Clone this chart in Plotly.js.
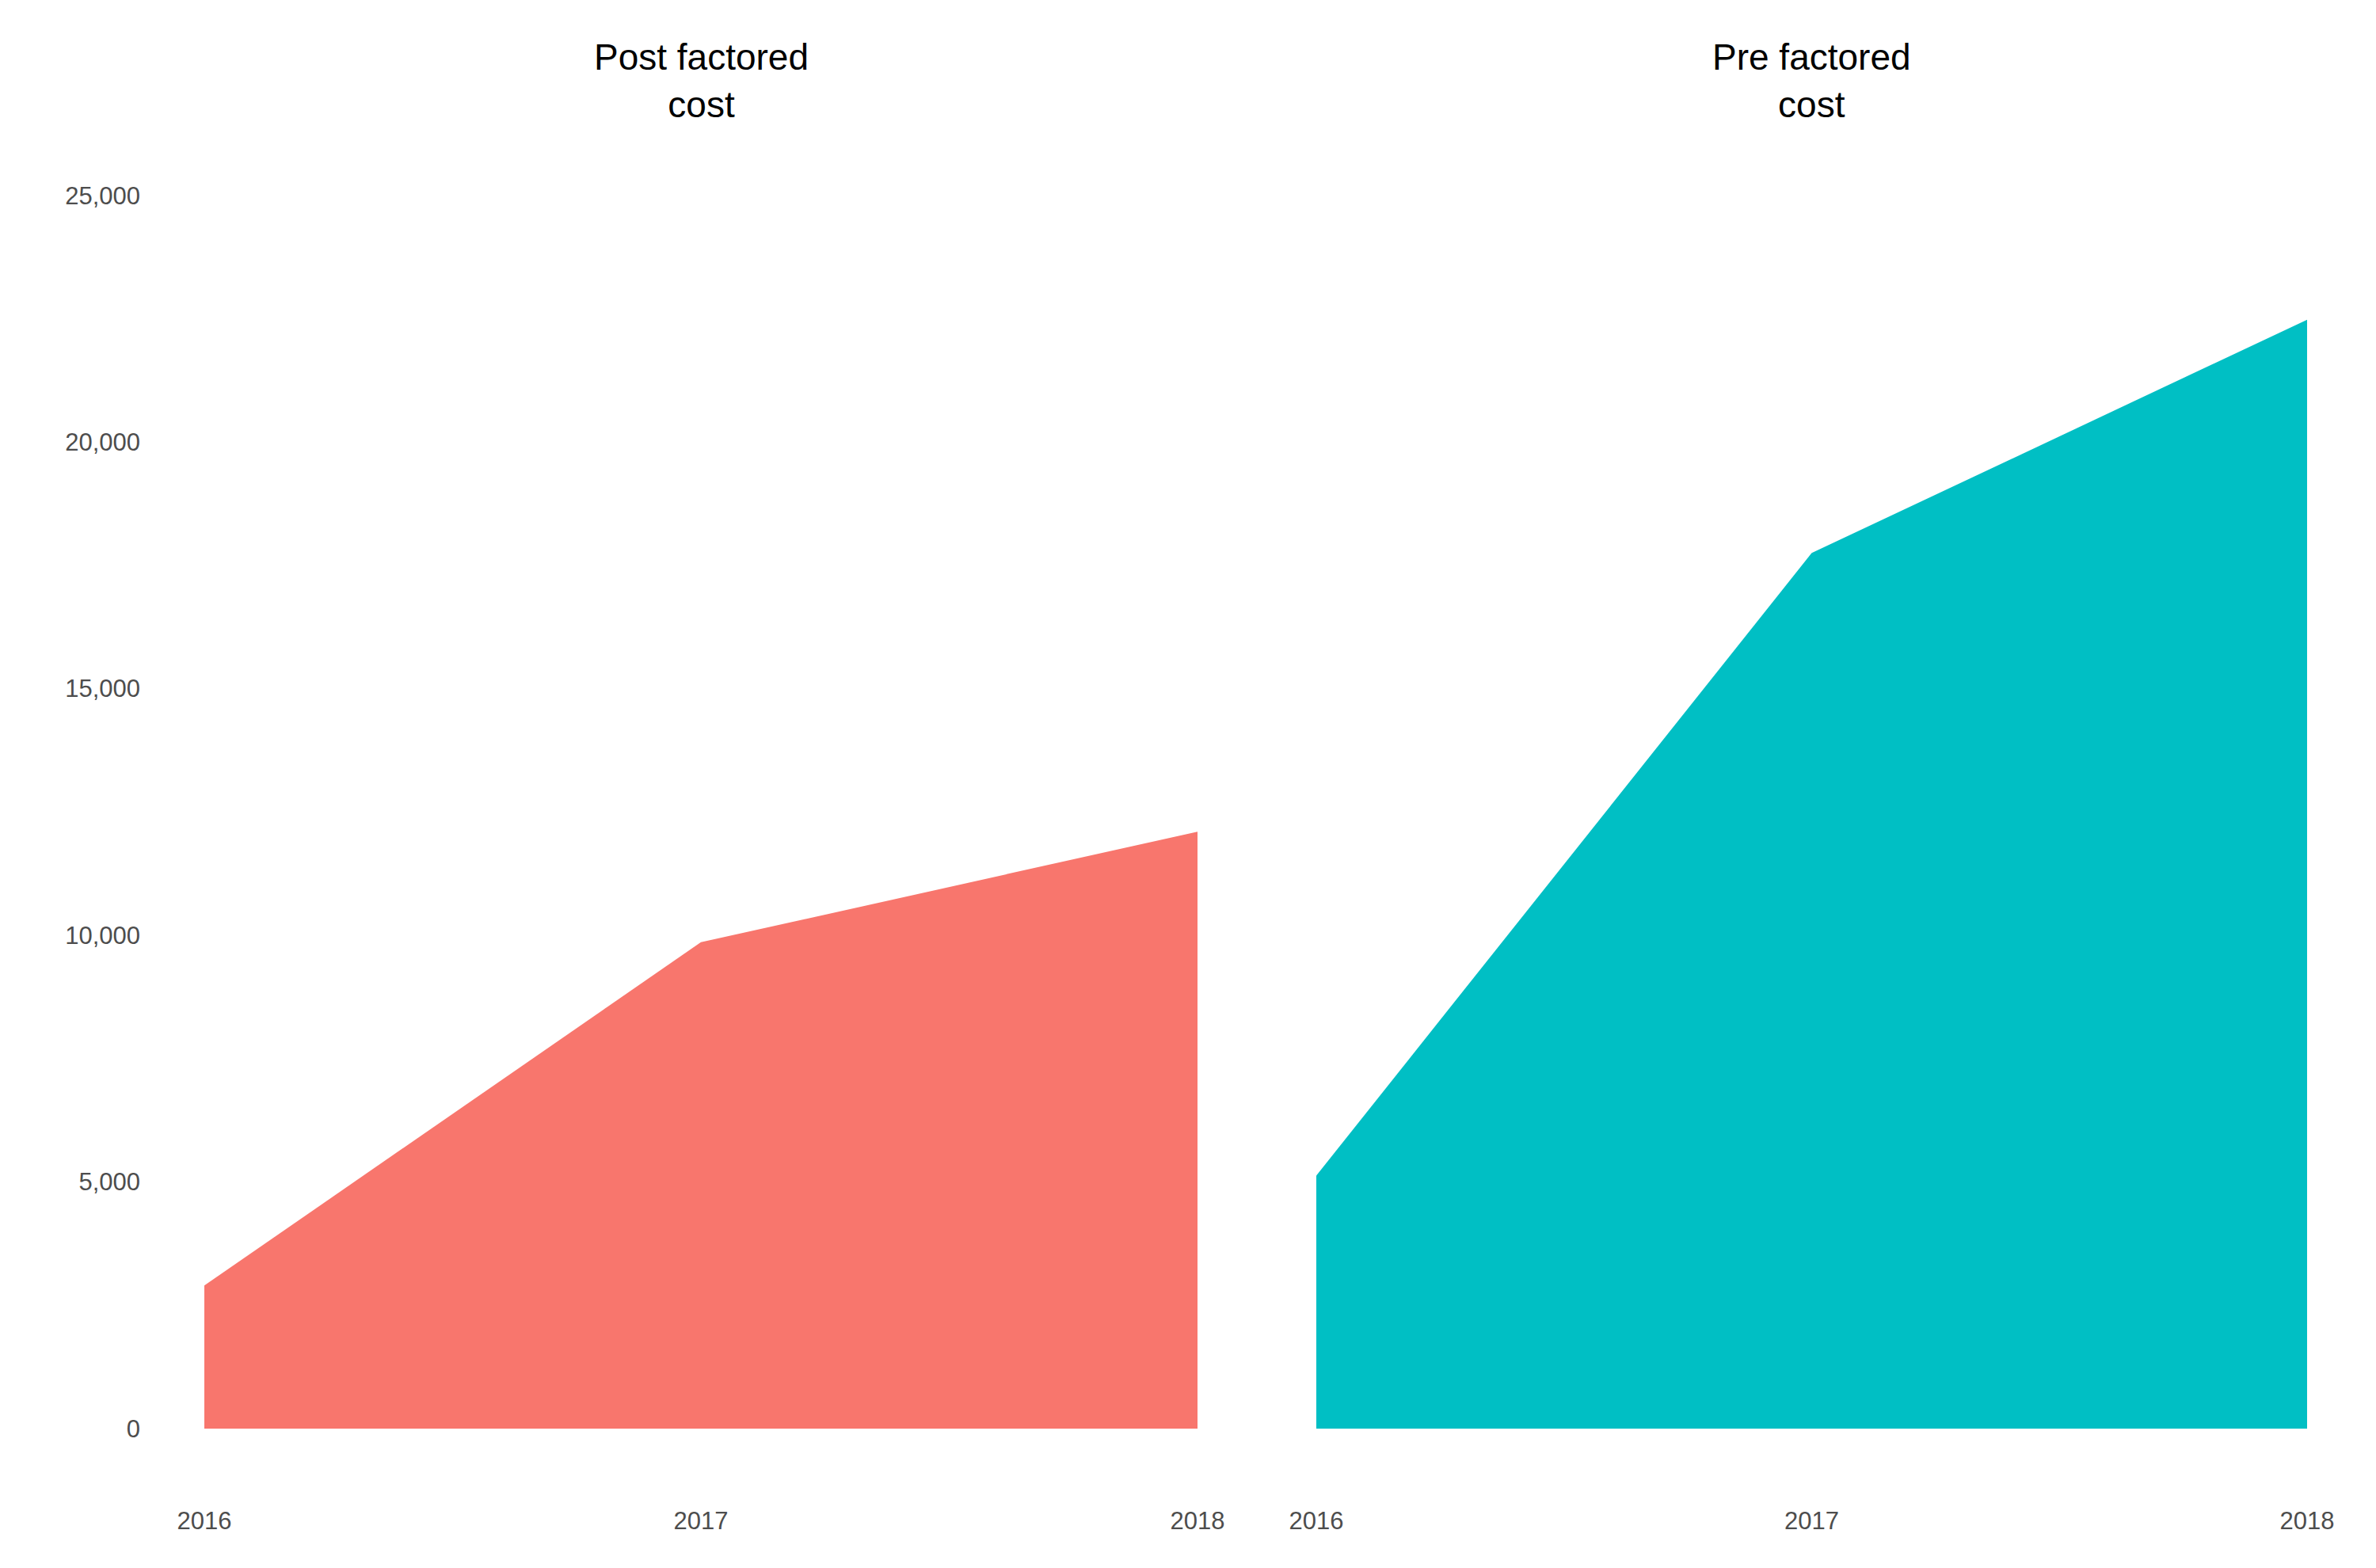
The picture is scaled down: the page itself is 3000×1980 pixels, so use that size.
<!DOCTYPE html>
<html>
<head>
<script src="https://cdn.plot.ly/plotly-3.0.1.min.js"></script>
<style>body{margin:0;background:#fff}</style>
</head>
<body>
<div id="chart" style="width:3000px;height:1980px;"></div>
<script>
var years = ['2016', '2017', '2018'];
var postFactored = [2900, 9860, 12100];
var preFactored = [5130, 17750, 22480];
var panelTitles = ['Post factored<br>cost', 'Pre factored<br>cost'];

var trace1 = {
  x: years, y: postFactored, type: 'scatter', mode: 'lines',
  fill: 'tozeroy', fillcolor: '#F8766D', line: {color: '#F8766D', width: 0},
  xaxis: 'x', yaxis: 'y', hoverinfo: 'x+y'
};
var trace2 = {
  x: years, y: preFactored, type: 'scatter', mode: 'lines',
  fill: 'tozeroy', fillcolor: '#00BFC4', line: {color: '#00BFC4', width: 0},
  xaxis: 'x2', yaxis: 'y2', hoverinfo: 'x+y'
};

var tickFont = {family: 'Liberation Sans, Arial, sans-serif', size: 31, color: '#4d4d4d'};
var xBase = {
  type: 'category', range: [0, 2], showgrid: false, zeroline: false, showline: false,
  tickfont: tickFont, ticks: '', ticklabelstandoff: 95
};
var yBase = {
  range: [0, 25000], tickvals: [0, 5000, 10000, 15000, 20000, 25000],
  tickprefix: '£', tickformat: ',d', showgrid: false, zeroline: false, showline: false,
  tickfont: tickFont, ticks: ''
};

var layout = {
  width: 3000, height: 1980, showlegend: false,
  paper_bgcolor: '#fff', plot_bgcolor: '#fff',
  margin: {l: 0, r: 0, t: 0, b: 0},
  xaxis: Object.assign({}, xBase, {domain: [0.086, 0.504], anchor: 'y'}),
  xaxis2: Object.assign({}, xBase, {domain: [0.554, 0.971], anchor: 'y2'}),
  yaxis: Object.assign({}, yBase, {domain: [0.0889, 0.8754], anchor: 'x', ticklabelstandoff: 80}),
  yaxis2: Object.assign({}, yBase, {domain: [0.0889, 0.8754], anchor: 'x2', showticklabels: false}),
  annotations: panelTitles.map(function(t, i) {
    return {
      text: t, xref: 'paper', yref: 'paper', x: i === 0 ? 0.295 : 0.7625, y: 0.978,
      xanchor: 'center', yanchor: 'top', showarrow: false,
      font: {family: 'Liberation Sans, Arial, sans-serif', size: 46, color: '#000'}
    };
  })
};

Plotly.newPlot('chart', [trace1, trace2], layout, {displayModeBar: false});
</script>
</body>
</html>
